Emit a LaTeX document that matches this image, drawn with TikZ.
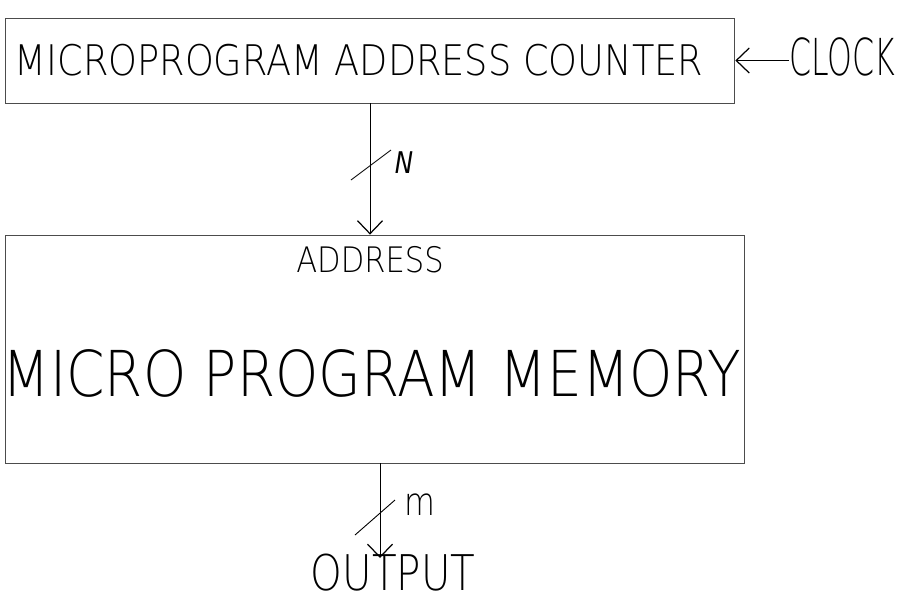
\documentclass[tikz,border=0pt]{standalone}
\usepackage{fontspec}
\newfontfamily\hand[FakeStretch=0.82]{DejaVu Sans ExtraLight}
\newfontfamily\handwide[FakeStretch=0.87]{DejaVu Sans ExtraLight}
\newfontfamily\handnarrow[FakeStretch=0.62]{DejaVu Sans ExtraLight}
\usetikzlibrary{arrows.meta, positioning}

\begin{document}
\begin{tikzpicture}[
      x=0.02cm, y=-0.02cm,
      blk/.style={draw=black!70, line width=0.5pt, inner sep=0pt},
      sig/.style={-{Straight Barb[length=2.6mm, width=5mm, line width=0.7pt]}, line width=0.5pt},
      tick/.style={line width=0.5pt},
      big/.style={font=\handwide\fontsize{36}{36}\selectfont},
      mid/.style={font=\handwide\fontsize{24}{24}\selectfont},
      lbl/.style={font=\hand\fontsize{29}{29}\selectfont, inner sep=0pt},
      sml/.style={font=\handwide\fontsize{20}{20}\selectfont},
      bus/.style={font=\hand\itshape\fontsize{17}{17}\selectfont},
    ]
    \useasboundingbox (0,0) rectangle (913,603);

    % --- the two blocks ---
    \node[blk, minimum width=14.6cm, minimum height=1.7cm] (counter) at (370,60.5) {};
    \node[mid] (countertxt) at (359,60) {MICROPROGRAM ADDRESS COUNTER};
    \node[blk, minimum width=14.8cm, minimum height=4.56cm] (memory) at (375,349) {};
    \node[big] (memorytxt) at (372,373) {MICRO PROGRAM MEMORY};
    \node[sml] (address) at (370,260) {ADDRESS};

    % --- clock input ---
    \node[lbl, font=\handnarrow\fontsize{29}{29}\selectfont, anchor=base west] (clock) at (789,75) {CLOCK};
    \draw[sig] (clock.west |- counter.east) -- (counter.east);

    % --- address bus, N bits ---
    \draw[sig] (counter.south) -- (counter.south |- memory.north);
    \draw[tick] (351,180) -- (391,150);
    \node[bus] (nbits) at (404,163) {N};

    % --- output bus, m bits ---
    \node[lbl, font=\hand\fontsize{28}{28}\selectfont, anchor=base] (output) at (393,590) {OUTPUT};
    \coordinate (outtip) at (380,558);
    \draw[sig] (memory.south -| outtip) -- (outtip);
    \draw[tick] (355,535) -- (395,500);
    \node[font=\hand\fontsize{22}{22}\selectfont] (mbits) at (420,505) {m};
  \end{tikzpicture}
\end{document}
